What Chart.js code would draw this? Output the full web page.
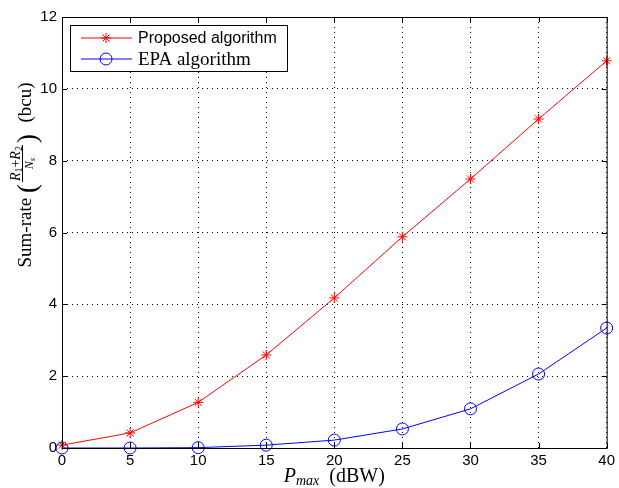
<!DOCTYPE html>
<html>
<head>
<meta charset="utf-8">
<script src="https://cdn.jsdelivr.net/npm/chart.js@4"></script>
<style>
  body { margin: 0; background: #fff; }
  #wrap { width: 619px; height: 488px; }
</style>
</head>
<body>
<div id="wrap"><canvas id="sumrate"></canvas></div>
<script>
var pmax = [0, 5, 10, 15, 20, 25, 30, 35, 40];
var proposed = [0.08, 0.42, 1.27, 2.59, 4.18, 5.88, 7.49, 9.16, 10.78];
var epa = [0.0, 0.0, 0.01, 0.08, 0.22, 0.53, 1.09, 2.06, 3.34];
var yTicks = [0, 2, 4, 6, 8, 10, 12];

var SERIF = '"Liberation Serif", "Times New Roman", serif';
var SANS = '"Liberation Sans", Arial, sans-serif';

function pts(ys) {
    return pmax.map(function (x, i) { return { x: x, y: ys[i] }; });
}

// draws a run of text pieces [text, font, dy] starting at x, returns end x
function run(c, parts, x, y, draw) {
    parts.forEach(function (p) {
        c.font = p[1];
        if (draw) c.fillText(p[0], x, y + (p[2] || 0));
        x += c.measureText(p[0]).width;
    });
    return x;
}

// MATLAB style box, inward ticks, axis labels and legend inside the axes
var matlabBox = {
    id: 'matlabBox',
    afterDraw: function (chart) {
        var c = chart.ctx, a = chart.chartArea;
        var xs = chart.scales.x, ys = chart.scales.y;
        c.save();
        c.strokeStyle = '#000';
        c.lineWidth = 1;
        c.strokeRect(a.left + 0.5, a.top + 0.5, a.right - a.left, a.bottom - a.top);
        c.beginPath();
        pmax.forEach(function (v) {
            var px = Math.round(xs.getPixelForValue(v)) + 0.5;
            c.moveTo(px, a.bottom); c.lineTo(px, a.bottom - 5);
            c.moveTo(px, a.top); c.lineTo(px, a.top + 5);
        });
        yTicks.forEach(function (v) {
            var py = Math.round(ys.getPixelForValue(v)) + 0.5;
            c.moveTo(a.left, py); c.lineTo(a.left + 5, py);
            c.moveTo(a.right, py); c.lineTo(a.right - 5, py);
        });
        c.stroke();

        // x label: P_max (dBW)
        c.fillStyle = '#000';
        c.textBaseline = 'alphabetic';
        var xParts = [['P', 'italic 20px ' + SERIF, 0], ['max', 'italic 14px ' + SERIF, 3], ['  (dBW)', '20px ' + SERIF, 0]];
        var w = run(c, xParts, 0, 0, false);
        run(c, xParts, (a.left + a.right) / 2 - w / 2, 482, true);

        // y label: Sum-rate ((R1+R2)/Ns) (bcu), rotated
        c.save();
        c.translate(31, 175);
        c.rotate(-Math.PI / 2);
        c.font = '19px ' + SERIF;
        var w1 = c.measureText('Sum-rate ').width;
        c.font = '27px ' + SERIF;
        var wp = c.measureText('(').width;
        var numParts = [['R', 'italic 14px ' + SERIF, 0], ['1', '10px ' + SERIF, 2], ['+', '14px ' + SERIF, 0], ['R', 'italic 14px ' + SERIF, 0], ['2', '10px ' + SERIF, 2]];
        var denParts = [['N', 'italic 12px ' + SERIF, 0], ['s', 'italic 9px ' + SERIF, 2]];
        var wn = run(c, numParts, 0, 0, false);
        var wd = run(c, denParts, 0, 0, false);
        var wf = Math.max(wn, wd) + 2;
        c.font = '19px ' + SERIF;
        var w3 = c.measureText('  (bcu)').width;
        var total = w1 + wp * 2 + wf + w3 + 6;
        var x0 = -total / 2;
        c.font = '19px ' + SERIF;
        c.fillText('Sum-rate ', x0, 0);
        x0 += w1;
        c.font = '27px ' + SERIF;
        c.fillText('(', x0, 5);
        x0 += wp + 2;
        run(c, numParts, x0 + (wf - wn) / 2, -11, true);
        c.fillRect(x0, -9, wf, 1);
        run(c, denParts, x0 + (wf - wd) / 2, 2, true);
        x0 += wf + 2;
        c.font = '27px ' + SERIF;
        c.fillText(')', x0, 5);
        x0 += wp + 2;
        c.font = '19px ' + SERIF;
        c.fillText('  (bcu)', x0, 0);
        c.restore();

        // legend
        var lx = 70, ly = 25, lw = 217, lh = 46;
        c.fillStyle = '#fff';
        c.fillRect(lx, ly, lw, lh);
        c.strokeStyle = '#000';
        c.strokeRect(lx + 0.5, ly + 0.5, lw, lh);
        var fonts = ['16px ' + SANS, '19px ' + SERIF];
        chart.data.datasets.forEach(function (ds, i) {
            var y = ly + 13 + i * 21;
            c.strokeStyle = ds.borderColor;
            c.fillStyle = 'rgba(0,0,0,0)';
            c.lineWidth = 1;
            c.beginPath();
            c.moveTo(lx + 11, y); c.lineTo(lx + 62, y);
            c.stroke();
            Chart.helpers.drawPoint(c, {
                pointStyle: ds.pointStyle, radius: ds.pointRadius, borderWidth: 1, rotation: 0
            }, lx + 36, y);
            c.fillStyle = '#000';
            c.font = fonts[i];
            c.textBaseline = 'middle';
            c.fillText(ds.label, lx + 68, y + 1);
        });
        c.restore();
    }
};

var ctx = document.getElementById('sumrate').getContext('2d');
var chart = new Chart(ctx, {
    type: 'line',
    data: {
        datasets: [{
            label: 'Proposed algorithm',
            data: pts(proposed),
            borderColor: '#ff0000',
            backgroundColor: 'rgba(0,0,0,0)',
            pointStyle: 'star',
            pointRadius: 5,
            pointBorderColor: '#ff0000',
            pointBackgroundColor: 'rgba(0,0,0,0)',
            borderWidth: 1,
            tension: 0
        }, {
            label: 'EPA algorithm',
            data: pts(epa),
            borderColor: '#0000ff',
            backgroundColor: 'rgba(0,0,0,0)',
            pointStyle: 'circle',
            pointRadius: 6,
            pointBorderColor: '#0000ff',
            pointBackgroundColor: 'rgba(0,0,0,0)',
            borderWidth: 1,
            tension: 0
        }]
    },
    options: {
        responsive: true,
        maintainAspectRatio: false,
        animation: false,
        clip: false,
        layout: { padding: { top: 17, right: 7, left: 0, bottom: 0 } },
        plugins: {
            legend: { display: false },
            tooltip: { enabled: false }
        },
        scales: {
            x: {
                type: 'linear',
                min: 0, max: 40,
                afterBuildTicks: function (s) { s.ticks = pmax.map(function (v) { return { value: v }; }); },
                afterFit: function (s) { s.height = 40; },
                grid: { color: '#000', lineWidth: 1, drawTicks: false },
                border: { display: false, dash: [1, 4] },
                ticks: { color: '#000', padding: 4, font: { family: SANS, size: 15 } }
            },
            y: {
                min: 0, max: 12,
                afterBuildTicks: function (s) { s.ticks = yTicks.map(function (v) { return { value: v }; }); },
                afterFit: function (s) { s.width = 62; },
                grid: { color: '#000', lineWidth: 1, drawTicks: false },
                border: { display: false, dash: [1, 4] },
                ticks: { color: '#000', padding: 5, font: { family: SANS, size: 15 } }
            }
        }
    },
    plugins: [matlabBox]
});
</script>
</body>
</html>
